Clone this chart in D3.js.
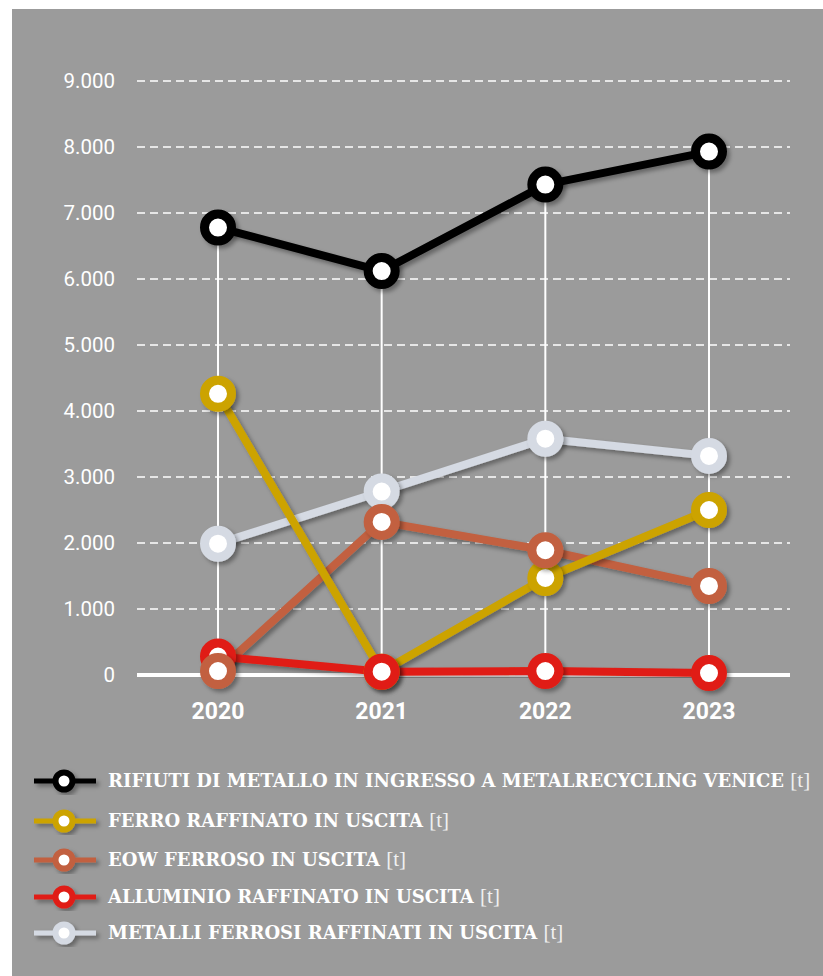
<!DOCTYPE html>
<html>
<head>
<meta charset="utf-8">
<script src="https://cdn.jsdelivr.net/npm/d3@7"></script>
<style>
  body { margin: 0; background: #fff; }
  svg { display: block; }
</style>
</head>
<body>
<div id="chart"></div>
<script>
// Anni e valori (tonnellate)
const years = ["2020", "2021", "2022", "2023"];
const rifiuti = [6780, 6120, 7430, 7930];
const ferro = [4260, 50, 1470, 2500];
const eow = [60, 2320, 1890, 1350];
const alluminio = [280, 50, 60, 30];
const metalliFerrosi = [1990, 2780, 3580, 3320];
const yTicks = [0, 1000, 2000, 3000, 4000, 5000, 6000, 7000, 8000, 9000];

const seriesNames = [
  "RIFIUTI DI METALLO IN INGRESSO A METALRECYCLING VENICE",
  "FERRO RAFFINATO IN USCITA",
  "EOW FERROSO IN USCITA",
  "ALLUMINIO RAFFINATO IN USCITA",
  "METALLI FERROSI RAFFINATI IN USCITA",
];
const seriesValues = [rifiuti, ferro, eow, alluminio, metalliFerrosi];
const seriesColors = ["#000000", "#cca300", "#c2603f", "#e01f14", "#d5dae3"];
// ordine di disegno
const lineOrder = [4, 2, 1, 3, 0];
const markerOrder = [4, 1, 3, 2, 0];

const W = 823, H = 976;
const locale = d3.formatLocale({ decimal: ",", thousands: ".", grouping: [3], currency: ["€", ""] });
const fmt = locale.format(",d");

const svg = d3.select("#chart").append("svg").attr("width", W).attr("height", H);

// ombra
const defs = svg.append("defs");
defs.append("filter").attr("id", "shadow")
  .attr("x", "-30%").attr("y", "-30%").attr("width", "160%").attr("height", "160%")
  .append("feDropShadow")
  .attr("dx", 3).attr("dy", 3).attr("stdDeviation", 2.2)
  .attr("flood-color", "#000").attr("flood-opacity", 0.35);

svg.append("rect").attr("x", 12).attr("y", 9).attr("width", W - 12).attr("height", H - 9).attr("fill", "#9b9b9b");

const x = d3.scalePoint().domain(years).range([218, 709]);
const y = d3.scaleLinear().domain([0, 9000]).range([675, 81]);
const gridX0 = 137, gridX1 = 790;

// griglia tratteggiata
svg.append("g").selectAll("line")
  .data(yTicks.filter((d) => d > 0))
  .enter().append("line")
  .attr("x1", gridX0).attr("x2", gridX1)
  .attr("y1", (d) => y(d)).attr("y2", (d) => y(d))
  .attr("stroke", "#fff").attr("stroke-width", 1.6)
  .attr("stroke-dasharray", "8,5");

// etichette asse y
svg.append("g").selectAll("text")
  .data(yTicks)
  .enter().append("text")
  .attr("x", 115).attr("y", (d) => y(d)).attr("dy", "0.35em")
  .attr("text-anchor", "end")
  .attr("font-family", "Roboto, sans-serif").attr("font-size", 20.5)
  .attr("fill", "#fff")
  .text((d) => fmt(d));

// linee verticali
const maxByYear = years.map((yr, i) => d3.max(seriesValues, (s) => s[i]));
svg.append("g").selectAll("line")
  .data(years)
  .enter().append("line")
  .attr("x1", (d) => x(d)).attr("x2", (d) => x(d))
  .attr("y1", y(0)).attr("y2", (d, i) => y(maxByYear[i]))
  .attr("stroke", "#fff").attr("stroke-width", 2);

// linea base
svg.append("line")
  .attr("x1", gridX0).attr("x2", gridX1)
  .attr("y1", y(0)).attr("y2", y(0))
  .attr("stroke", "#fff").attr("stroke-width", 4);

// etichette anni
svg.append("g").selectAll("text")
  .data(years)
  .enter().append("text")
  .attr("x", (d) => x(d)).attr("y", 719)
  .attr("text-anchor", "middle")
  .attr("font-family", "Roboto, sans-serif").attr("font-weight", "bold").attr("font-size", 23)
  .attr("fill", "#fff")
  .text((d) => d);

const line = d3.line().x((d, i) => x(years[i])).y((d) => y(d));

lineOrder.forEach((si) => {
  svg.append("path")
    .datum(seriesValues[si])
    .attr("filter", "url(#shadow)")
    .attr("d", line)
    .attr("fill", "none")
    .attr("stroke", seriesColors[si])
    .attr("stroke-width", 8)
    .attr("stroke-linejoin", "round");
});

markerOrder.forEach((si) => {
  const g = svg.append("g").attr("filter", "url(#shadow)");
  g.selectAll("circle")
    .data(seriesValues[si])
    .enter().append("circle")
    .attr("cx", (d, i) => x(years[i]))
    .attr("cy", (d) => y(d))
    .attr("r", 13.5)
    .attr("fill", "#fff")
    .attr("stroke", seriesColors[si])
    .attr("stroke-width", 9);
});

// legenda
const legendY = [781, 821, 860, 897, 933];
const legend = svg.append("g");
seriesNames.forEach((name, i) => {
  const item = legend.append("g").attr("transform", `translate(0, ${legendY[i]})`);
  const mk = item.append("g").attr("filter", "url(#shadow)");
  mk.append("line")
    .attr("x1", 34).attr("x2", 96).attr("y1", 0).attr("y2", 0)
    .attr("stroke", seriesColors[i]).attr("stroke-width", 5);
  mk.append("circle")
    .attr("cx", 64).attr("cy", 0).attr("r", 8.5)
    .attr("fill", "#fff")
    .attr("stroke", seriesColors[i]).attr("stroke-width", 6);
  const t = item.append("text")
    .attr("x", 108).attr("y", 0).attr("dy", "0.36em")
    .attr("font-family", "'DejaVu Serif', serif").attr("font-size", 18)
    .attr("fill", "#fff");
  t.append("tspan").attr("font-weight", "bold").text(name + " ");
  t.append("tspan").attr("font-weight", "300").attr("fill", "#f0f0f0")
    .attr("font-family", "'Liberation Serif', serif").attr("font-size", 21).text("[t]");
});
</script>
</body>
</html>
